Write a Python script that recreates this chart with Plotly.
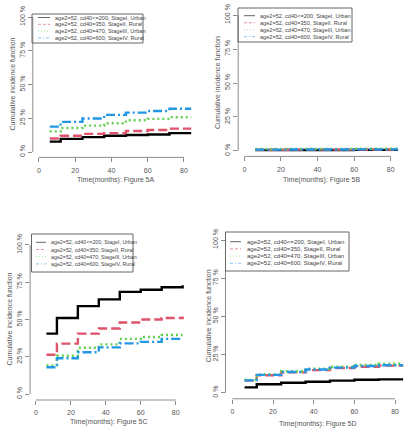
import plotly.graph_objects as go

W, H = 410, 440

times = [6, 12, 24, 36, 48, 60, 72, 84]
legend_labels = [
    "age2=52, cd40<=200, StageI, Urban",
    "age2=52, cd40=350, StageII, Rural",
    "age2=52, cd40=470, StageIII, Urban",
    "age2=52, cd40=600, StageIV, Rural",
]
panel_titles = ["Time(months): Figure 5A", "Time(months): Figure 5B",
                "Time(months): Figure 5C", "Time(months): Figure 5D"]

# cumulative incidence (fraction) per panel, per group
a_black = [0.077, 0.097, 0.110, 0.120, 0.126, 0.130, 0.140, 0.140]
a_red = [0.100, 0.120, 0.134, 0.140, 0.156, 0.163, 0.173, 0.173]
a_green = [0.153, 0.178, 0.195, 0.213, 0.235, 0.245, 0.257, 0.257]
a_blue = [0.188, 0.223, 0.248, 0.275, 0.292, 0.304, 0.320, 0.320]

b_black = [0.006, 0.006, 0.007, 0.007, 0.007, 0.008, 0.008, 0.008]
b_red = [0.009, 0.009, 0.010, 0.010, 0.010, 0.011, 0.011, 0.011]
b_green = [0.014, 0.014, 0.015, 0.015, 0.015, 0.016, 0.016, 0.016]
b_blue = [0.010, 0.010, 0.011, 0.011, 0.011, 0.012, 0.012, 0.012]

c_black = [0.405, 0.510, 0.590, 0.635, 0.685, 0.700, 0.716, 0.730]
c_red = [0.264, 0.338, 0.405, 0.440, 0.480, 0.500, 0.510, 0.520]
c_green = [0.192, 0.257, 0.310, 0.333, 0.370, 0.383, 0.396, 0.396]
c_blue = [0.180, 0.240, 0.280, 0.313, 0.340, 0.350, 0.370, 0.370]

d_black = [0.035, 0.055, 0.065, 0.072, 0.079, 0.085, 0.087, 0.087]
d_red = [0.079, 0.114, 0.133, 0.148, 0.162, 0.170, 0.177, 0.177]
d_green = [0.083, 0.120, 0.140, 0.157, 0.170, 0.181, 0.190, 0.190]
d_blue = [0.081, 0.117, 0.136, 0.152, 0.164, 0.175, 0.180, 0.180]

panels = [
    [a_black, a_red, a_green, a_blue],
    [b_black, b_red, b_green, b_blue],
    [c_black, c_red, c_green, c_blue],
    [d_black, d_red, d_green, d_blue],
]

xticks = [0, 20, 40, 60, 80]
yticks = [0, 0.25, 0.5, 0.75, 1.0]
ytick_text = ["0 %", "25 %", "50 %", "75 %", "100 %"]

colors = ["#000000", "#DF536B", "#61D04F", "#2297E6"]
leg_colors = ["#666666", "#E8909F", "#A5E39A", "#86C3F2"]
dashes = ["solid", "9px,4px", "2px,3px", "9px,3px,2px,3px"]
leg_dashes = ["solid", "3px,2px", "1px,2px", "3px,2px,1px,2px"]

# pixel boxes of each plot region: (left, right, top, bottom)
boxes = [
    (32.8, 197.3, 11.6, 157.4),
    (238.2, 404.2, 9.6, 156.4),
    (30.1, 188.5, 239.0, 400.0),
    (225.5, 410.0, 233.9, 398.8),
]
# legend box pixels: (left, right, top, bottom), sample line x0, x1, text x, first row y, row step, font size
legends = [
    (32, 143, 14, 43, 38, 50, 53, 17.5, 6.8, 5.6),
    (238, 352, 8, 42, 244, 255, 258, 15.7, 7.0, 5.6),
    (31.5, 133, 234, 272, 36, 46, 49, 242.3, 7.2, 5.3),
    (225.5, 349, 232, 271, 230, 241, 245, 241.7, 7.2, 6.0),
]
ytitle_x = [12, 217, 9, 208]
xtitle_y = [180, 180, 422, 424]

AX = "#8c8c8c"
TX = "#555555"
FONT = "Liberation Sans, Arial, sans-serif"

fig = go.Figure()
layout = {}
shapes = []
annotations = []

for p in range(4):
    sfx = "" if p == 0 else str(p + 1)
    xa = "x" + sfx
    ya = "y" + sfx
    for g in range(4):
        fig.add_trace(go.Scatter(
            x=times, y=panels[p][g], mode="lines", line_shape="hv",
            line=dict(color=colors[g], width=2.4, dash=dashes[g]),
            name=legend_labels[g], xaxis=xa, yaxis=ya, showlegend=False,
        ))
    l, r, t, b = boxes[p]
    layout["xaxis" + sfx] = dict(
        domain=[l / W, min(r / W, 1.0)], range=[-3.36, 87.36],
        anchor=ya, tickvals=xticks, ticks="outside", ticklen=4,
        tickcolor=AX, showgrid=False, zeroline=False, showline=False,
        automargin=False, ticklabelstandoff=2,
        tickfont=dict(size=7, color=TX, family=FONT),
    )
    layout["yaxis" + sfx] = dict(
        domain=[1 - b / H, 1 - t / H], range=[-0.04, 1.04],
        anchor=xa, tickvals=yticks, ticktext=ytick_text, ticks="outside",
        ticklen=4, tickcolor=AX, tickangle=-90, showgrid=False,
        zeroline=False, showline=False, automargin=False,
        tickfont=dict(size=7, color=TX, family=FONT),
    )
    # R-style axis lines spanning first to last tick
    shapes.append(dict(type="line", xref=xa, yref=ya + " domain",
                       x0=xticks[0], x1=xticks[-1], y0=0, y1=0,
                       line=dict(color=AX, width=1)))
    shapes.append(dict(type="line", xref=xa + " domain", yref=ya,
                       x0=0, x1=0, y0=yticks[0], y1=yticks[-1],
                       line=dict(color=AX, width=1)))
    annotations.append(dict(
        text="Cumulative incidence function", textangle=-90,
        xref="paper", yref=ya + " domain", x=ytitle_x[p] / W, y=0.5,
        showarrow=False, xanchor="center", yanchor="middle",
        font=dict(size=7, color=TX, family=FONT),
    ))
    annotations.append(dict(
        text=panel_titles[p], xref=xa + " domain", yref="paper",
        x=0.5, y=1 - xtitle_y[p] / H, showarrow=False,
        xanchor="center", yanchor="middle",
        font=dict(size=7, color=TX, family=FONT),
    ))
    # manual R-style legend
    L, R, T, B, lx0, lx1, tx, ry0, rstep, fs = legends[p]
    shapes.append(dict(type="rect", xref="paper", yref="paper",
                       x0=L / W, x1=min(R / W, 1.0), y0=1 - B / H, y1=1 - T / H,
                       line=dict(color="#666666", width=1),
                       fillcolor="rgba(255,255,255,0)"))
    for g in range(4):
        yy = 1 - (ry0 + g * rstep) / H
        shapes.append(dict(type="line", xref="paper", yref="paper",
                           x0=lx0 / W, x1=lx1 / W, y0=yy, y1=yy,
                           line=dict(color=leg_colors[g], width=1,
                                     dash=leg_dashes[g])))
        annotations.append(dict(
            text=legend_labels[g], xref="paper", yref="paper",
            x=tx / W, y=yy, showarrow=False, xanchor="left",
            yanchor="middle", font=dict(size=fs, color="#444444", family=FONT),
        ))

fig.update_layout(
    width=W, height=H, margin=dict(l=0, r=0, t=0, b=0),
    paper_bgcolor="white", plot_bgcolor="white", showlegend=False,
    shapes=shapes, annotations=annotations, **layout,
)

fig.write_html(
    "out.html",
    config={"displayModeBar": False},
    post_script="document.body.style.margin='0';document.body.style.padding='0';",
)
